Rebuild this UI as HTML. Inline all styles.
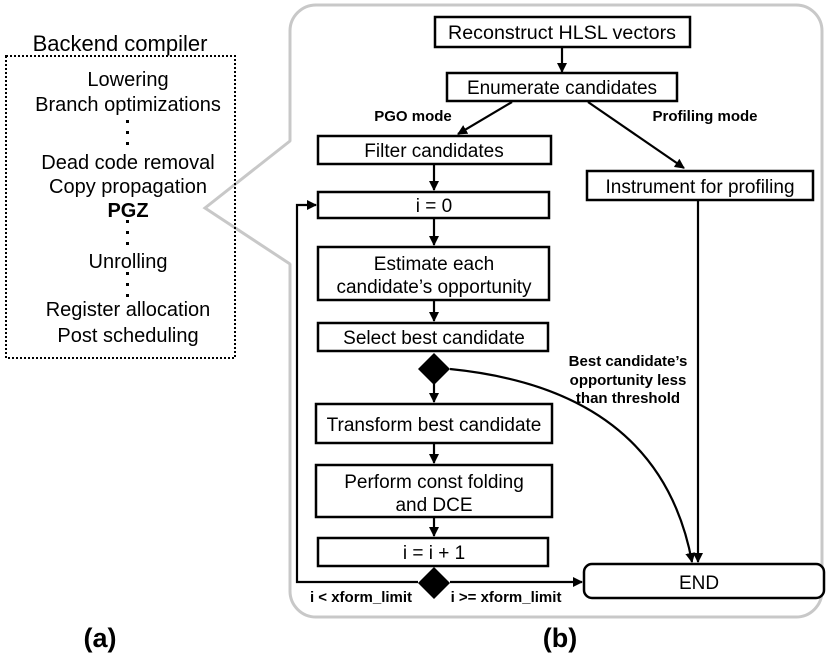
<!DOCTYPE html>
<html><head><style>
body{margin:0;background:#fff;}
svg{display:block;font-family:"Liberation Sans",Arial,sans-serif;}
</style></head><body>
<svg width="831" height="667" viewBox="0 0 831 667" xmlns="http://www.w3.org/2000/svg">
<defs>
<marker id="a" markerWidth="10" markerHeight="10" refX="9" refY="5" orient="auto" markerUnits="userSpaceOnUse">
<path d="M0,0 L10,5 L0,10 z" fill="#000"/></marker>
</defs>
<rect x="290" y="5" width="532" height="612" rx="26" fill="#fff" stroke="#c8c8c8" stroke-width="3"/>
<polygon points="292,141 205,208 292,264" fill="#fff" stroke="none"/>
<polyline points="290,141 205,208 290,264" fill="none" stroke="#c8c8c8" stroke-width="3"/>
<rect x="6" y="56" width="229" height="302" fill="none" stroke="#000" stroke-width="2" stroke-dasharray="2,2"/>
<g font-size="20" text-anchor="middle" fill="#000">
<text x="120" y="51" font-size="22">Backend compiler</text>
<text x="128" y="86">Lowering</text>
<text x="128" y="111">Branch optimizations</text>
<text x="128" y="169">Dead code removal</text>
<text x="128" y="193">Copy propagation</text>
<text x="128" y="217" font-weight="bold">PGZ</text>
<text x="128" y="268">Unrolling</text>
<text x="128" y="316">Register allocation</text>
<text x="128" y="342">Post scheduling</text>
</g>
<g fill="#000">
<rect x="126" y="120" width="3" height="3"/><rect x="126" y="131" width="3" height="3"/><rect x="126" y="142" width="3" height="3"/>
<rect x="126" y="220" width="3" height="3"/><rect x="126" y="231" width="3" height="3"/><rect x="126" y="242" width="3" height="3"/>
<rect x="126" y="272" width="3" height="3"/><rect x="126" y="283" width="3" height="3"/><rect x="126" y="294" width="3" height="3"/>
</g>
<g fill="#fff" stroke="#000" stroke-width="2.5">
<rect x="435" y="17" width="255" height="30"/>
<rect x="447" y="73" width="230" height="28"/>
<rect x="318" y="136" width="233" height="28"/>
<rect x="587" y="171" width="226" height="29"/>
<rect x="318" y="192" width="231" height="26"/>
<rect x="318" y="247" width="231" height="53"/>
<rect x="318" y="323" width="230" height="28"/>
<rect x="316" y="404" width="236" height="39"/>
<rect x="316" y="465" width="236" height="52"/>
<rect x="318" y="538" width="230" height="28"/>
<rect x="584" y="564" width="240" height="34" rx="8"/>
</g>
<g font-size="19" text-anchor="middle" fill="#000">
<text x="562" y="39" textLength="228" lengthAdjust="spacingAndGlyphs">Reconstruct HLSL vectors</text>
<text x="562" y="94">Enumerate candidates</text>
<text x="434" y="157">Filter candidates</text>
<text x="700" y="193">Instrument for profiling</text>
<text x="434" y="212">i = 0</text>
<text x="434" y="270">Estimate each</text>
<text x="434" y="293">candidate’s opportunity</text>
<text x="434" y="344">Select best candidate</text>
<text x="434" y="431">Transform best candidate</text>
<text x="434" y="488">Perform const folding</text>
<text x="434" y="511">and DCE</text>
<text x="434" y="559">i = i + 1</text>
<text x="699" y="589">END</text>
</g>
<g font-size="15" font-weight="bold" text-anchor="middle" fill="#000">
<text x="413" y="121">PGO mode</text>
<text x="705" y="121">Profiling mode</text>
<text x="628" y="366">Best candidate’s</text>
<text x="628" y="385">opportunity less</text>
<text x="628" y="403">than threshold</text>
<text x="361" y="602">i &lt; xform_limit</text>
<text x="506" y="602">i &gt;= xform_limit</text>
<text x="100" y="647" font-size="27">(a)</text>
<text x="560" y="647" font-size="27">(b)</text>
</g>
<g stroke="#000" stroke-width="2.2" fill="none" marker-end="url(#a)">
<line x1="562" y1="47" x2="562" y2="72"/>
<line x1="512" y1="102" x2="458" y2="134"/>
<line x1="588" y1="102" x2="684" y2="168"/>
<line x1="434" y1="164" x2="434" y2="190"/>
<line x1="434" y1="218" x2="434" y2="245"/>
<line x1="434" y1="300" x2="434" y2="321"/>
<line x1="434" y1="384" x2="434" y2="402"/>
<line x1="434" y1="443" x2="434" y2="463"/>
<line x1="434" y1="517" x2="434" y2="536"/>
<line x1="698" y1="200" x2="698" y2="562"/>
<path d="M450,369 Q660,390 692,562"/>
<line x1="450" y1="582" x2="582" y2="582"/>
<polyline points="418,582 297,582 297,205 316,205"/>
</g>
<polygon points="434,353 450,369 434,385 418,369" fill="#000"/>
<polygon points="434,567 450,583 434,599 418,583" fill="#000"/>
</svg>
</body></html>
